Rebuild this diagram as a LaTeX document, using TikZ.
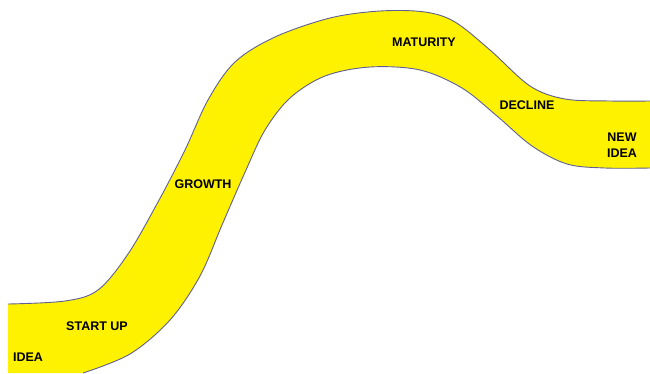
\documentclass[tikz,border=0pt]{standalone}
\usepackage{fontspec}
\setmainfont{Liberation Sans}
\begin{document}
\begin{tikzpicture}[x=1pt,y=-1pt,
  lbl/.style={font=\bfseries\fontsize{12.5}{15.5}\selectfont, inner sep=0pt, text=black},
  edge/.style={draw={rgb,255:red,95;green,95;blue,150}, line width=0.9pt}]
\useasboundingbox (0,0) rectangle (650,373);
\def\upper{(8,304) (65,301) (98,290) (128,254) (158,202) (185,150) (208,100) (235,62) (275,37) (330,18) (380,11) (425,12) (455,22) (490,50) (530,86) (565,99) (610,101) (650,101)}
\def\lower{(650,168) (605,168) (567,164) (532,146) (497,116) (462,88) (420,70) (370,67) (325,76) (290,98) (265,130) (246,170) (222,225) (200,276) (170,320) (130,354) (83,373)}
\fill[yellow] plot[smooth,tension=0.55] coordinates {\upper} -- plot[smooth,tension=0.55] coordinates {\lower} -- (8,373) -- cycle;
\draw[edge] plot[smooth,tension=0.55] coordinates {\upper};
\draw[edge] plot[smooth,tension=0.55] coordinates {\lower};
\node[lbl] (idea) at (28,357) {IDEA};
\node[lbl] (startup) at (97,326) {START UP};
\node[lbl] (growth) at (203,184) {GROWTH};
\node[lbl] (maturity) at (424,42) {MATURITY};
\node[lbl] (decline) at (527,105) {DECLINE};
\node[lbl,align=center] (newidea) at (622,145) {NEW\\IDEA};
\end{tikzpicture}
\end{document}
